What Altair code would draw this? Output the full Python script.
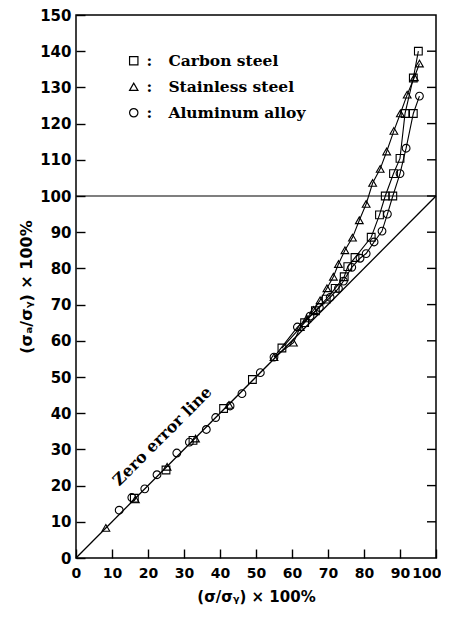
import altair as alt
import pandas as pd

# ---- data ----
materials = ["Carbon steel", "Stainless steel", "Aluminum alloy"]
shapes = ["square", "triangle-up", "circle"]

st_x = [8.3, 16.5, 25.3, 33.2, 42.5, 55.0, 60.4, 62.3, 64.1, 66.0, 67.8, 69.7, 71.5, 72.9, 74.7, 76.8, 78.7, 80.6, 82.4, 84.5, 86.3, 88.3, 90.1, 92.0, 94.0, 95.4]
st_y = [8.3, 16.2, 25.2, 33.0, 42.3, 55.5, 59.5, 63.8, 66.2, 68.5, 71.2, 74.5, 77.7, 81.2, 85.0, 88.5, 93.3, 97.8, 103.6, 107.5, 112.3, 118.0, 122.8, 128.0, 132.8, 136.6]

cs_x = [16.2, 25.0, 32.5, 41.0, 49.0, 57.2, 63.5, 66.5, 69.5, 72.0, 74.5, 75.5, 77.5, 82.0, 84.3, 85.9, 88.2, 90.0, 91.4, 93.7, 95.1]
cs_y = [16.5, 24.3, 32.5, 41.3, 49.3, 58.0, 65.0, 68.3, 71.5, 74.5, 77.7, 80.5, 83.0, 88.6, 94.8, 100.0, 106.2, 110.4, 122.8, 132.6, 140.0]

# carbon-steel points lying on the right-hand curve
cs2_x = [88.0, 93.7]
cs2_y = [100.0, 122.8]

al_x = [12.0, 15.5, 19.1, 22.5, 28.0, 31.5, 36.2, 38.8, 42.8, 46.1, 51.2, 55.0, 61.5, 65.0, 67.6, 70.6, 72.9, 74.3, 76.6, 78.9, 80.6, 82.8, 85.0, 86.5, 90.0, 91.7, 95.4]
al_y = [13.2, 16.7, 19.1, 23.0, 29.0, 32.0, 35.5, 38.8, 42.0, 45.4, 51.2, 55.5, 63.8, 66.8, 69.2, 72.0, 74.5, 76.5, 80.3, 82.8, 84.1, 87.3, 90.3, 95.0, 106.2, 113.2, 127.6]

zero_x = [0, 100]
zero_y = [0, 100]
ref_y = [100]
label_text = ["Zero error line"]
label_x = [24.0]
label_y = [33.6]

x_ticks = list(range(0, 101, 10))
y_ticks = list(range(0, 151, 10))
x_inner = list(range(10, 100, 10))
y_inner = list(range(10, 150, 10))
tick_len = 2.5  # inward tick length, in axis units

# ---- tables ----
rows = []
for x, y in zip(st_x, st_y):
    rows.append({"x": x, "y": y, "material": "Stainless steel", "curve": "A"})
for x, y in zip(cs_x, cs_y):
    rows.append({"x": x, "y": y, "material": "Carbon steel", "curve": "B"})
for x, y in zip(cs2_x, cs2_y):
    rows.append({"x": x, "y": y, "material": "Carbon steel", "curve": "C"})
for x, y in zip(al_x, al_y):
    rows.append({"x": x, "y": y, "material": "Aluminum alloy", "curve": "C"})
pts = pd.DataFrame(rows)

TICK = 9
xs = alt.Scale(domain=[0, 100], nice=False, zero=False)
ys = alt.Scale(domain=[0, 150], nice=False, zero=False)
# negative offset pulls the axis inside the frame so its ticks point inward
xax = alt.Axis(values=x_ticks, title="(σ/σᵧ) × 100%", offset=-TICK, tickSize=TICK, zindex=2)
yax = alt.Axis(values=y_ticks, title="(σₐ/σᵧ) × 100%", offset=-TICK, tickSize=TICK, zindex=2)

X = alt.X("x:Q", scale=xs, axis=xax)
Y = alt.Y("y:Q", scale=ys, axis=yax)

zero_df = pd.DataFrame({"x": zero_x, "y": zero_y})
zero_line = alt.Chart(zero_df).mark_line(color="black", strokeWidth=1.3).encode(x=X, y=Y)

ref_df = pd.DataFrame({"y": ref_y})
ref_rule = alt.Chart(ref_df).mark_rule(color="black", strokeWidth=1.1).encode(y=Y)

curves = alt.Chart(pts).transform_filter(alt.datum.y >= 55).mark_line(
    color="black", strokeWidth=1.1).encode(
    x=X, y=Y, detail="curve:N", order="y:Q",
)

points = alt.Chart(pts).mark_point(filled=False, color="black", strokeWidth=1.1, size=60, opacity=1).encode(
    x=X, y=Y,
    shape=alt.Shape(
        "material:N",
        scale=alt.Scale(domain=materials, range=shapes),
        legend=alt.Legend(
            title=None,
            orient="none",
            legendX=50,
            legendY=38,
            padding=0,
            labelExpr="':\u00a0\u00a0\u00a0' + datum.label",
            labelFont="DejaVu Serif",
            labelFontWeight="bold",
            labelFontSize=15.5,
            labelColor="black",
            labelOffset=5,
            rowPadding=9,
            symbolSize=70,
            symbolStrokeColor="black",
            symbolFillColor="transparent",
            symbolStrokeWidth=1.2,
        ),
    ),
)

lab_df = pd.DataFrame({"x": label_x, "y": label_y, "t": label_text})
zero_label = alt.Chart(lab_df).mark_text(
    angle=315, font="DejaVu Serif", fontWeight="bold", fontSize=16, color="black",
    align="center", baseline="middle").encode(x=X, y=Y, text="t:N")

# inward tick marks on the right edge, built from the tick list
right_df = pd.DataFrame({"y": y_inner, "x": [100.0 - tick_len] * len(y_inner), "x2": [100.0] * len(y_inner)})
right_ticks = alt.Chart(right_df).mark_rule(color="black", strokeWidth=1.4).encode(
    x=X, x2="x2:Q", y=Y)

chart = alt.layer(
    zero_line, ref_rule, curves, points, zero_label, right_ticks
).properties(
    width=360, height=543,
    autosize=alt.AutoSizeParams(type="none"),
    padding={"left": 68, "top": 7, "right": 5, "bottom": 54},
).configure_view(
    stroke="black", strokeWidth=1.5
).configure_axis(
    grid=False, domain=False, ticks=True, tickColor="black", tickWidth=1.4, tickOpacity=1,
    labelOverlap=False,
    labelFont="DejaVu Sans", labelFontWeight="bold", labelFontSize=15, labelColor="black",
    titleFont="DejaVu Sans", titleFontWeight="bold", titleFontSize=15, titleColor="black",
).configure_axisX(
    labelPadding=8, titlePadding=9, labelFontSize=14,
    labelFlush=True, labelFlushOffset=5,
).configure_axisY(
    labelPadding=5, titlePadding=5, titleFontSize=16, labelFlush=False,
)

chart.save("out.html", embed_options={"renderer": "svg", "actions": False})
